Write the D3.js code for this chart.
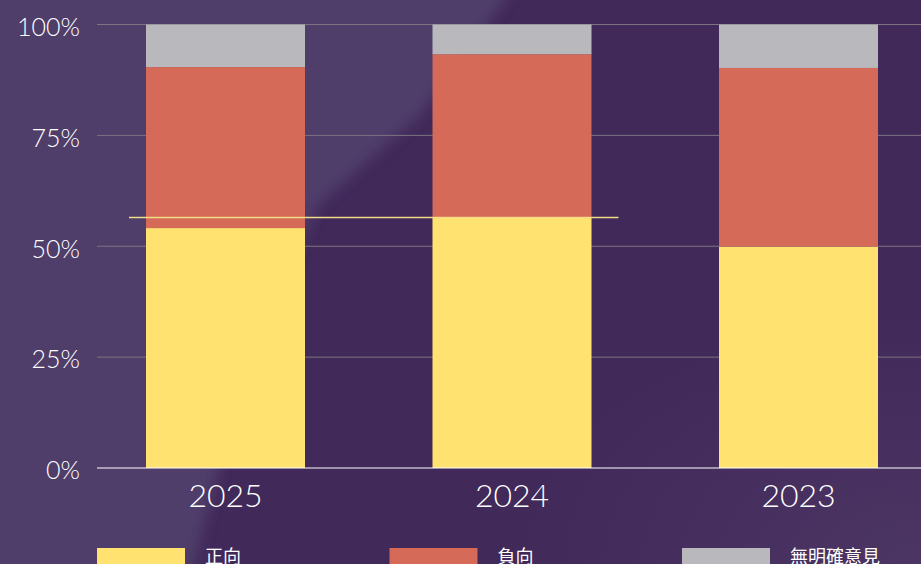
<!DOCTYPE html>
<html>
<head>
<meta charset="utf-8">
<script src="https://cdn.jsdelivr.net/npm/d3@7"></script>
<style>
  html, body { margin: 0; padding: 0; background: #41295a; overflow: hidden; }
  svg { display: block; }
</style>
</head>
<body>
<svg width="921" height="564"></svg>
<script>
// data (percent)
var years = ['2025', '2024', '2023'];
var positive = [54.1, 56.5, 49.9];
var negative = [36.3, 36.8, 40.3];
var noOpinion = [9.6, 6.7, 9.8];
var seriesNames = ['正向', '負向', '無明確意見'];
var yTicks = [0, 25, 50, 75, 100];
var colors = ['#ffe26f', '#d46a57', '#b9b8bd'];

var svg = d3.select('svg');
var svgWidth = +svg.attr('width');
var svgHeight = +svg.attr('height');

// background: dark purple with a lighter sweep on the upper left
var defs = svg.append('defs');
defs.append('filter').attr('id', 'soft')
    .attr('x', '-20%').attr('y', '-20%').attr('width', '140%').attr('height', '140%')
    .append('feGaussianBlur').attr('stdDeviation', 7);
var rg = defs.append('radialGradient').attr('id', 'glow')
    .attr('cx', '100%').attr('cy', '100%').attr('r', '45%');
rg.append('stop').attr('offset', '0%').attr('stop-color', '#4d3764').attr('stop-opacity', 0.9);
rg.append('stop').attr('offset', '100%').attr('stop-color', '#4d3764').attr('stop-opacity', 0);

svg.append('rect').attr('width', svgWidth).attr('height', svgHeight).attr('fill', '#41295a');
svg.append('rect').attr('width', svgWidth).attr('height', svgHeight).attr('fill', 'url(#glow)');
svg.append('path')
    .attr('d', 'M-20,-20L515,-20L505,0L420,115L318,205L250,350L190,580L-20,580Z')
    .attr('fill', '#4f3e6b')
    .attr('filter', 'url(#soft)');

var padding = {t: 24.5, b: 96, l: 97};
var chartHeight = svgHeight - padding.t - padding.b;

var xScale = d3.scaleBand()
    .domain(years)
    .range([82.25, 941.75])
    .paddingInner(0.445)
    .paddingOuter(0.2225);

var yScale = d3.scaleLinear()
    .domain([0, 100])
    .range([padding.t + chartHeight, padding.t]);

// grid lines
svg.append('g').selectAll('line')
    .data(yTicks.filter(function(d) { return d > 0; }))
    .enter().append('line')
    .attr('x1', padding.l).attr('x2', svgWidth)
    .attr('y1', function(d) { return yScale(d); })
    .attr('y2', function(d) { return yScale(d); })
    .attr('stroke', '#7d7480')
    .attr('stroke-width', 1);

// y labels
svg.append('g').selectAll('text')
    .data(yTicks)
    .enter().append('text')
    .attr('x', 80)
    .attr('y', function(d) { return yScale(d); })
    .attr('dy', '0.45em')
    .attr('text-anchor', 'end')
    .attr('fill', '#ffffff')
    .style('font-family', 'Lato, sans-serif')
    .style('font-weight', 300)
    .style('font-size', '25px')
    .text(function(d) { return d + '%'; });

// stacked bars
var rows = years.map(function(y, i) {
    return {year: y, a: positive[i], b: negative[i], c: noOpinion[i]};
});
var stack = d3.stack().keys(['a', 'b', 'c']);
var layers = stack(rows);

svg.append('g').selectAll('g')
    .data(layers)
    .enter().append('g')
    .attr('fill', function(d, i) { return colors[i]; })
    .selectAll('rect')
    .data(function(d) { return d; })
    .enter().append('rect')
    .attr('x', function(d) { return xScale(d.data.year); })
    .attr('width', xScale.bandwidth())
    .attr('y', function(d) { return yScale(d[1]); })
    .attr('height', function(d) { return yScale(d[0]) - yScale(d[1]); });

// reference line at 2024 positive level
var refY = yScale(positive[1]);
svg.append('line')
    .attr('x1', xScale('2025') - 17)
    .attr('x2', xScale('2024') + xScale.bandwidth() + 27)
    .attr('y1', refY).attr('y2', refY)
    .attr('stroke', '#f4dc86')
    .attr('stroke-width', 1.5);

// baseline
svg.append('line')
    .attr('x1', padding.l).attr('x2', svgWidth)
    .attr('y1', yScale(0)).attr('y2', yScale(0))
    .attr('stroke', '#ffffff')
    .attr('stroke-width', 1.2);

// x labels
svg.append('g').selectAll('text')
    .data(years)
    .enter().append('text')
    .attr('x', function(d) { return xScale(d) + xScale.bandwidth() / 2; })
    .attr('y', 507)
    .attr('text-anchor', 'middle')
    .attr('fill', '#ffffff')
    .style('font-family', 'Lato, sans-serif')
    .style('font-weight', 300)
    .style('font-size', '32px')
    .text(function(d) { return d; });

// legend
var legendX = d3.scalePoint().domain(seriesNames).range([97, 682]);
var legend = svg.append('g').selectAll('g')
    .data(seriesNames)
    .enter().append('g')
    .attr('transform', function(d) { return 'translate(' + legendX(d) + ',548)'; });
legend.append('rect')
    .attr('width', 88).attr('height', 20)
    .attr('fill', function(d, i) { return colors[i]; });
legend.append('text')
    .attr('x', 108).attr('y', 15)
    .attr('fill', '#ffffff')
    .style('font-family', '"Noto Sans CJK TC", sans-serif')
    .style('font-size', '18px')
    .text(function(d) { return d; });
</script>
</body>
</html>
